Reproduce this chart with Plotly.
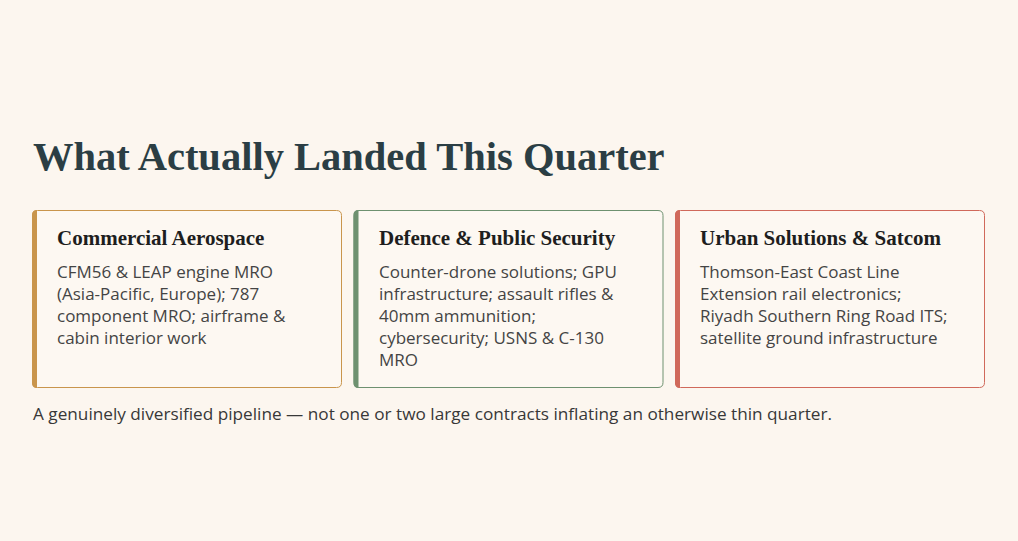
import plotly.graph_objects as go

# card content
titles = ["Commercial Aerospace", "Defence & Public Security", "Urban Solutions & Satcom"]
bodies = [
    ["CFM56 & LEAP engine MRO", "(Asia-Pacific, Europe); 787", "component MRO; airframe &", "cabin interior work"],
    ["Counter-drone solutions; GPU", "infrastructure; assault rifles &", "40mm ammunition;", "cybersecurity; USNS & C-130", "MRO"],
    ["Thomson-East Coast Line", "Extension rail electronics;", "Riyadh Southern Ring Road ITS;", "satellite ground infrastructure"],
]
accents = ["#C9954C", "#6E9170", "#D0695B"]

heading = "What Actually Landed This Quarter"
footnote = "A genuinely diversified pipeline \u2014 not one or two large contracts inflating an otherwise thin quarter."

W, H = 1018, 541
BG = "#FCF6EF"
CARD_X0, CARD_W, CARD_GAP = 32, 310, 11.5
CARD_Y0, CARD_Y1 = 210, 388
R = 5

fig = go.Figure()


def rounded(x0, y0, x1, y1, r):
    return (f"M{x0+r},{y0} L{x1-r},{y0} Q{x1},{y0} {x1},{y0+r} L{x1},{y1-r} "
            f"Q{x1},{y1} {x1-r},{y1} L{x0+r},{y1} Q{x0},{y1} {x0},{y1-r} "
            f"L{x0},{y0+r} Q{x0},{y0} {x0+r},{y0} Z")


shapes = []
annotations = []
for i, (t, lines, c) in enumerate(zip(titles, bodies, accents)):
    x0 = CARD_X0 + i * (CARD_W + CARD_GAP)
    x1 = x0 + CARD_W
    shapes.append(dict(type="path", path=rounded(x0 + 0.5, CARD_Y0 + 0.5, x1 - 0.5, CARD_Y1 - 0.5, R),
                       fillcolor="#FDF8F2", line=dict(color=c, width=1), xref="x", yref="y", layer="below"))
    # left accent stripe
    sp = (f"M{x0+R},{CARD_Y0} L{x0+5},{CARD_Y0} L{x0+5},{CARD_Y1} L{x0+R},{CARD_Y1} "
          f"Q{x0},{CARD_Y1} {x0},{CARD_Y1-R} L{x0},{CARD_Y0+R} Q{x0},{CARD_Y0} {x0+R},{CARD_Y0} Z")
    shapes.append(dict(type="path", path=sp, fillcolor=c, line=dict(width=0), xref="x", yref="y"))

    annotations.append(dict(x=x0 + 23, y=238, text=f"<b>{t.replace('&', '&amp;')}</b>", xanchor="left", yanchor="middle",
                            showarrow=False, font=dict(family="Liberation Serif", size=21, color="#1E1E1E")))
    for j, ln in enumerate(lines):
        annotations.append(dict(x=x0 + 23, y=271 + 22 * j, text=ln.replace("&", "&amp;"), xanchor="left",
                                yanchor="middle", showarrow=False,
                                font=dict(family="Open Sans", size=17, color="#444444")))

annotations.append(dict(x=31, y=156, text=f"<b>{heading}</b>", xanchor="left", yanchor="middle", showarrow=False,
                        font=dict(family="Liberation Serif", size=40.5, color="#2B3E44")))
annotations.append(dict(x=31, y=413, text=footnote, xanchor="left", yanchor="middle", showarrow=False,
                        font=dict(family="Open Sans", size=17.2, color="#383838")))

fig.update_layout(
    width=W, height=H,
    margin=dict(l=0, r=0, t=0, b=0),
    paper_bgcolor=BG, plot_bgcolor=BG,
    xaxis=dict(range=[0, W], visible=False, fixedrange=True),
    yaxis=dict(range=[H, 0], visible=False, fixedrange=True),
    shapes=shapes, annotations=annotations,
    showlegend=False,
)

fig.write_html("out.html", config={"displayModeBar": False},
               post_script="document.body.style.margin='0';document.body.style.background='#FCF6EF';")
